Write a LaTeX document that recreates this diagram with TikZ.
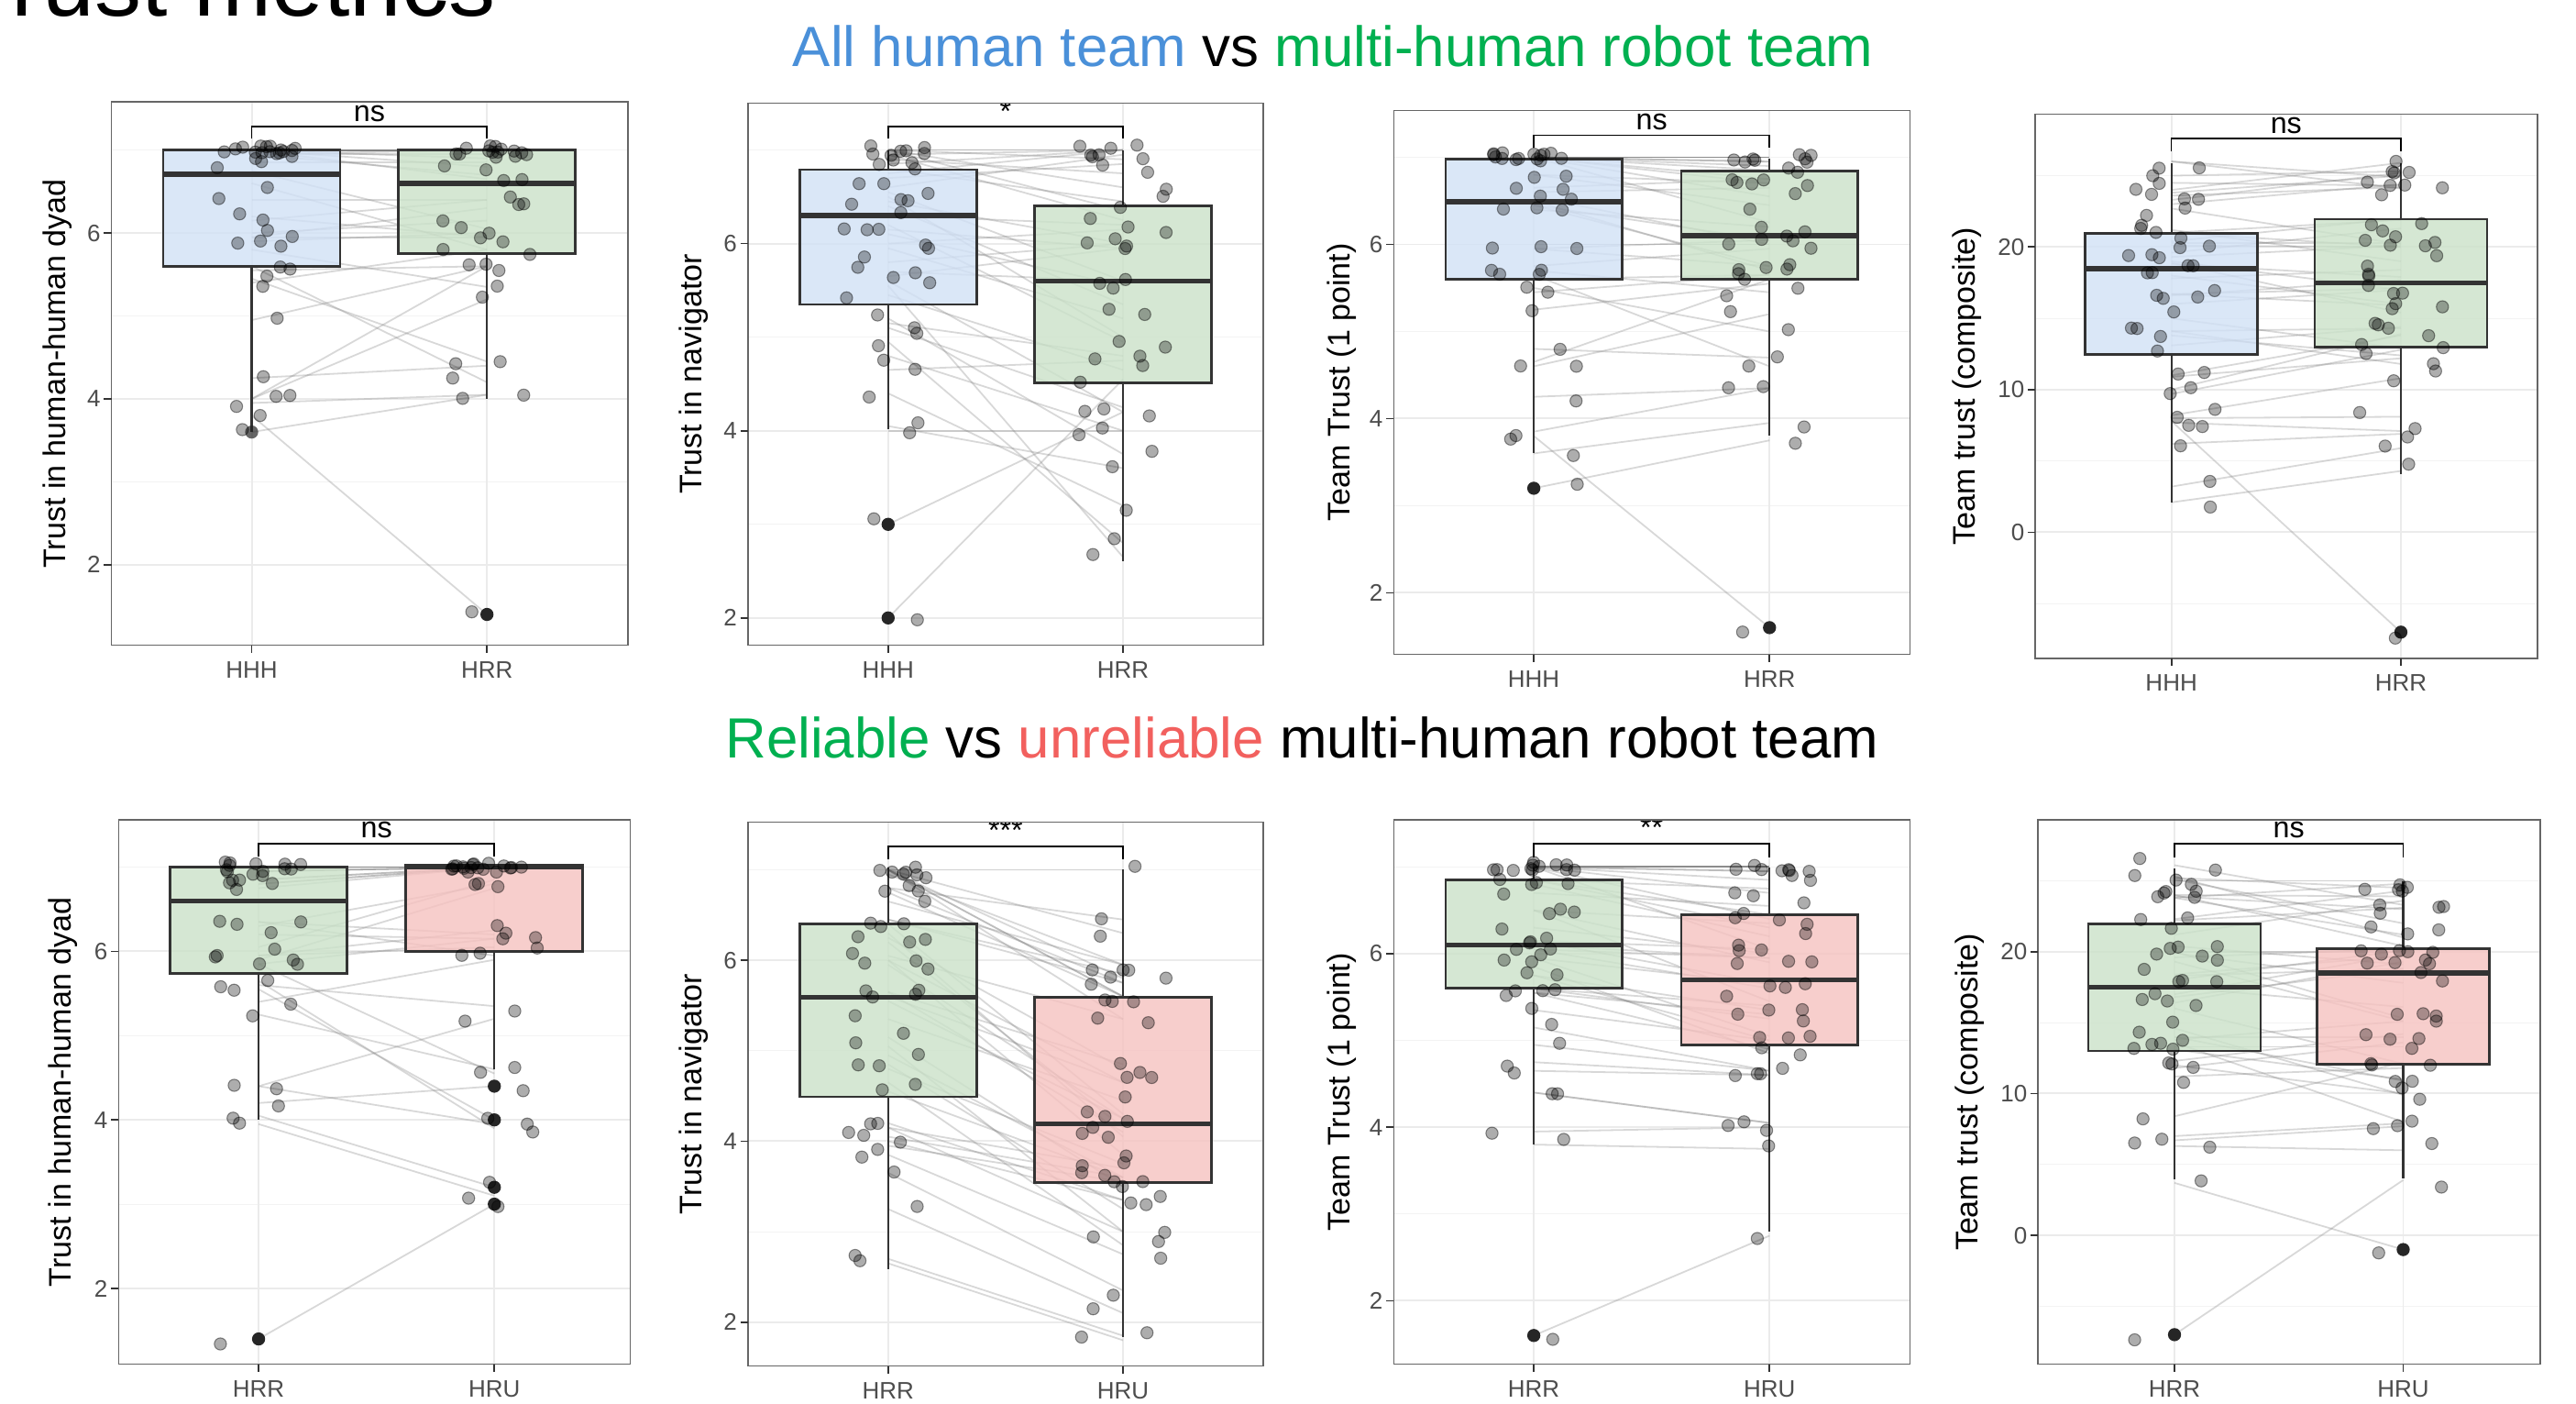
\documentclass[tikz,border=0pt]{standalone}
\usepackage{fontspec}
\setmainfont{Liberation Sans}
\definecolor{gmaj}{HTML}{EBEBEB}
\definecolor{gmin}{HTML}{F3F3F3}
\definecolor{bxblue}{HTML}{D1E1F6}
\definecolor{bxgreen}{HTML}{CBE2C9}
\definecolor{bxred}{HTML}{F6C2C0}
\definecolor{edge}{HTML}{333333}
\definecolor{ticktxt}{HTML}{4D4D4D}
\definecolor{tblue}{HTML}{4A90D9}
\definecolor{tgreen}{HTML}{00B050}
\definecolor{tred}{HTML}{F2605E}
\tikzset{
 gridmajor/.style={draw=gmaj, line width=1.1pt},
 gridminor/.style={draw=gmin, line width=0.6pt},
 pairline/.style={draw=black!50, draw opacity=0.3, line width=1pt},
 dot/.style={circle, inner sep=0pt, minimum size=7.4pt, fill=black, fill opacity=0.32, draw=black, draw opacity=0.42, line width=0.6pt},
 outl/.style={circle, inner sep=0pt, minimum size=8pt, fill=black!85, draw=none},
 boxst/.style={draw=edge, line width=1.5pt, fill opacity=0.8},
 medst/.style={draw=edge, line width=3pt},
 whisk/.style={draw=edge, line width=1.2pt},
 brk/.style={draw=black, line width=0.9pt},
 frm/.style={draw=black!60, line width=0.9pt},
 tkmark/.style={draw=edge, line width=1pt},
 ticklab/.style={text=ticktxt, font=\fontsize{14.5}{16}\selectfont, inner sep=0pt},
 axtitle/.style={font=\fontsize{19}{21}\selectfont, inner sep=0pt, rotate=90},
 siglab/.style={font=\fontsize{18}{20}\selectfont, inner sep=0pt, anchor=base},
 subtitle/.style={font=\fontsize{34.5}{40}\selectfont, inner sep=0pt, anchor=base},
}
% box: x, wlo, q1, med, q3, whi, fill
\newcommand\bxp[7]{%
  \draw[whisk] (#1,#5) -- (#1,#6);
  \draw[whisk] (#1,#3) -- (#1,#2);
  \filldraw[boxst, fill=#7] ({#1-\HW},#3) rectangle ({#1+\HW},#5);
  \draw[medst] ({#1-\HW},#4) -- ({#1+\HW},#4);
}
\def\Bs{9}
\def\Perm{{4,8,1,6,0,3,7,2,5}}
\newcommand\drawpanel{%
\foreach \a [count=\c] in \Alist {\xdef\Np{\c}}%
\edef\Barr{{\Blist}}%
\begin{scope}
\clip (\FL,\FT) rectangle (\FR,\FB);
\begin{scope}[shift={(0,\Yz)}, y={(0pt,\Sc pt)}]
\foreach \v in \Minors {\draw[gridminor] (\FL,\v) -- (\FR,\v);}
\foreach \v in \Majors {\draw[gridmajor] (\FL,\v) -- (\FR,\v);}
\end{scope}
\draw[gridmajor] (\XA,\FT) -- (\XA,\FB);
\draw[gridmajor] (\XB,\FT) -- (\XB,\FB);
\begin{scope}[shift={(0,\Yz)}, y={(0pt,\Sc pt)}]
\foreach \a [count=\i from 0] in \Alist {
 \pgfmathtruncatemacro\blk{int(\i/\Bs)}
 \pgfmathtruncatemacro\rr{mod(\i,\Bs)}
 \pgfmathtruncatemacro\pp{\Perm[\rr]}
 \pgfmathtruncatemacro\jj{ifthenelse(\Bs*\blk+\Bs<\Np,\Bs*\blk+\pp,\i)}
 \pgfmathsetmacro\bb{\Barr[\jj]}
 \draw[pairline] (\XA,\a) -- (\XB,\bb);
}
\BoxA
\BoxB
\Outl
\foreach \a [count=\i] in \Alist {
 \pgfmathsetmacro\jx{\XA+27*rand}
 \pgfmathsetmacro\jy{\a+\JH*rand}
 \node[dot] (\Pfx a\i) at (\jx,\jy) {};
}
\foreach \a [count=\i] in \Blist {
 \pgfmathsetmacro\jx{\XB+27*rand}
 \pgfmathsetmacro\jy{\a+\JH*rand}
 \node[dot] (\Pfx b\i) at (\jx,\jy) {};
}
\end{scope}
\draw[brk] (\XA,\BE) -- (\XA,\BY) -- (\XB,\BY) -- (\XB,\BE);
\node[siglab] (\Pfx s) at ({(\XA+\XB)/2},{\BY-3.3}) {\Sig};
\end{scope}
\draw[frm] (\FL,\FT) rectangle (\FR,\FB);
\begin{scope}[shift={(0,\Yz)}, y={(0pt,\Sc pt)}]
\foreach \v [count=\k] in \Majors {
 \draw[tkmark] ({\FL-4.5},\v) -- (\FL,\v);
 \node[ticklab, anchor=east] (\Pfx t\k) at ({\FL-6.5},\v) {\v};
}
\end{scope}
\draw[tkmark] (\XA,\FB) -- (\XA,{\FB+4.5});
\draw[tkmark] (\XB,\FB) -- (\XB,{\FB+4.5});
\node[ticklab, anchor=base] (\Pfx xa) at (\XA,{\FB+20}) {\LabA};
\node[ticklab, anchor=base] (\Pfx xb) at (\XB,{\FB+20}) {\LabB};
\node[axtitle] (\Pfx yt) at ({\FL-\Toff},{(\FT+\FB)/2}) {\Ytitle};
}
\begin{document}
\begin{tikzpicture}[x=1pt,y=-1pt]
\useasboundingbox (0,0) rectangle (1568,854);
\fill[white] (0,0) rectangle (1568,854);
\pgfmathsetseed{11}
\node[font=\fontsize{57}{60}\selectfont, anchor=base west, inner sep=0pt] (title) at (7,10) {rust metrics};
\node[subtitle] (sub1) at (811.5,40.5) {\textcolor{tblue}{All human team} vs \textcolor{tgreen}{multi-human robot team}};
\node[subtitle] (sub2) at (792.5,461) {\textcolor{tgreen}{Reliable} vs \textcolor{tred}{unreliable} multi-human robot team};
% ---------- Panel 1
\begin{scope}
\def\Pfx{Pa}
\def\FL{67.8}\def\FR{382.4}\def\FT{62.1}\def\FB{392.6}
\def\XA{153.2}\def\XB{296.4}\def\HW{53.8}
\def\Yz{444.5}\def\Sc{50.45}\def\JH{0.06}
\def\Majors{2,4,6}\def\Minors{3,5,7}
\def\Alist{7,7,7,7,7,7,7,7,7,7,7,7,7,7,6.95,6.95,6.95,6.85,6.75,6.6,6.4,6.2,6.15,6.0,5.95,5.95,5.9,5.8,5.6,5.55,5.45,5.4,4.95,4.25,4.0,4.0,3.95,3.8,3.6}
\def\Blist{7,7,7,7,7,7,7,7,7,7,7,7,6.95,6.9,6.85,6.8,6.7,6.65,6.4,6.4,6.3,6.15,6.05,6.0,5.95,5.95,5.8,5.8,5.6,5.6,5.6,5.35,5.2,4.45,4.4,4.2,4.05,1.4,4.05}
\def\BoxA{\bxp{\XA}{3.6}{5.6}{6.71}{7.0}{7.0}{bxblue}}
\def\BoxB{\bxp{\XB}{4.0}{5.75}{6.6}{7.0}{7.0}{bxgreen}}
\def\Outl{\node[outl] (Pao1) at (\XB,1.4) {}; \node[outl, fill opacity=0.7] (Pao2) at (\XA,3.6) {};}
\def\BY{77.1}\def\BE{84.4}\def\Sig{ns}
\def\LabA{HHH}\def\LabB{HRR}
\def\Ytitle{Trust in human-human dyad}\def\Toff{32.8}
\drawpanel
\end{scope}
% ---------- Panel 2
\begin{scope}
\def\Pfx{Pb}
\def\Bs{13}\def\Perm{{6,11,2,9,0,12,4,8,1,10,3,7,5}}
\def\FL{455.2}\def\FR{769.0}\def\FT{62.8}\def\FB{392.6}
\def\XA{540.6}\def\XB{683.6}\def\HW{53.9}
\def\Yz{489.9}\def\Sc{56.95}\def\JH{0.06}
\def\Majors{2,4,6}\def\Minors{3,5,7}
\def\Alist{7,7,7,7,7,6.95,6.95,6.9,6.85,6.8,6.75,6.7,6.6,6.55,6.5,6.45,6.4,6.3,6.2,6.15,6.1,6.0,5.95,5.8,5.7,5.65,5.6,5.55,5.45,5.2,5.15,5.1,4.95,4.8,4.65,4.4,4.05,4.0,3.0,2.0}
\def\Blist{7,7,7,7,7,6.95,6.9,6.85,6.75,6.6,6.45,6.35,6.25,6.2,6.15,6.0,6.0,5.95,5.95,5.6,5.6,5.55,5.35,5.2,5.0,4.95,4.8,4.75,4.65,3.6,2.8,4.2,4.2,4.0,4.0,3.75,3.2,2.65,4.25,4.55}
\def\BoxA{\bxp{\XA}{4.02}{5.35}{6.3}{6.79}{7.0}{bxblue}}
\def\BoxB{\bxp{\XB}{2.61}{4.51}{5.6}{6.4}{7.0}{bxgreen}}
\def\Outl{\node[outl] (Pbo1) at (\XA,3.0) {}; \node[outl] (Pbo2) at (\XA,2.0) {};}
\def\BY{77.1}\def\BE{84.4}\def\Sig{*}
\def\LabA{HHH}\def\LabB{HRR}
\def\Ytitle{Trust in navigator}\def\Toff{33}
\drawpanel
\end{scope}
% ---------- Panel 3
\begin{scope}
\def\Pfx{Pc}
\def\FL{848.4}\def\FR{1162.5}\def\FT{67.2}\def\FB{398.2}
\def\XA{933.6}\def\XB{1077.1}\def\HW{53.7}
\def\Yz{466.7}\def\Sc{53.0}\def\JH{0.06}
\def\Majors{2,4,6}\def\Minors{3,5,7}
\def\Alist{7,7,7,7,7,7,7,7,7,7,7,7,7,7,6.8,6.8,6.65,6.6,6.55,6.5,6.45,6.45,6.4,6.0,5.95,5.95,5.75,5.7,5.65,5.6,5.5,5.45,5.25,4.8,4.65,4.6,4.25,3.85,3.8,3.6,3.2}
\def\Blist{7,7,7,7,7,7,6.95,6.95,6.9,6.85,6.75,6.75,6.7,6.7,6.65,6.55,6.45,6.25,6.2,6.05,6.05,6.0,6.0,5.95,5.75,5.75,5.7,5.65,5.65,5.6,5.55,5.45,5.2,5.0,4.7,4.6,4.35,4.35,1.6,3.95,3.75}
\def\BoxA{\bxp{\XA}{3.6}{5.6}{6.49}{6.98}{7.0}{bxblue}}
\def\BoxB{\bxp{\XB}{3.81}{5.6}{6.1}{6.84}{6.98}{bxgreen}}
\def\Outl{\node[outl] (Pco1) at (\XA,3.2) {}; \node[outl] (Pco2) at (\XB,1.6) {};}
\def\BY{82.2}\def\BE{90.0}\def\Sig{ns}
\def\LabA{HHH}\def\LabB{HRR}
\def\Ytitle{Team Trust (1 point)}\def\Toff{31.5}
\drawpanel
\end{scope}
% ---------- Panel 4
\begin{scope}
\def\Pfx{Pd}
\def\FL{1238.9}\def\FR{1544.7}\def\FT{69.5}\def\FB{400.5}
\def\XA{1321.7}\def\XB{1461.4}\def\HW{52.5}
\def\Yz{323.9}\def\Sc{8.68}\def\JH{0.5}
\def\Majors{0,10,20}\def\Minors{-5,5,15,25}
\def\Alist{26,26,25,24.5,24,23.8,23.6,23.3,23,22.7,21.2,21,21,20.4,20.3,20.1,19.6,19.3,19,18.9,18.8,18,17.8,16.7,16.7,16.6,16,15,14.1,14.1,13.8,13.1,11,10.9,10,9.7,8.2,8,7.8,7.7,6.2,3.2,2.1}
\def\Blist{25.9,25.3,25.2,25,24.9,24.4,24.3,24.2,24.1,22,21.9,21.3,20.3,20.2,20.1,20,20,19,18.4,17.9,17.7,17.1,17,17,16,15.9,15.4,14.4,14.3,13.9,13.8,12.9,12.8,12.4,12.2,11.8,10.8,8.1,-7,7.1,6.9,5.9,4.3}
\def\BoxA{\bxp{\XA}{2.07}{12.49}{18.48}{20.97}{25.9}{bxblue}}
\def\BoxB{\bxp{\XB}{4.1}{12.98}{17.5}{21.96}{25.9}{bxgreen}}
\def\Outl{\node[outl] (Pdo1) at (\XB,-7) {};}
\def\BY{84.3}\def\BE{92.2}\def\Sig{ns}
\def\LabA{HHH}\def\LabB{HRR}
\def\Ytitle{Team trust (composite)}\def\Toff{41.5}
\drawpanel
\end{scope}
% ---------- Panel 5
\begin{scope}
\def\Pfx{Pe}
\def\FL{72.2}\def\FR{383.6}\def\FT{498.9}\def\FB{830.1}
\def\XA{157.4}\def\XB{300.9}\def\HW{53.9}
\def\Yz{886.5}\def\Sc{51.27}\def\JH{0.06}
\def\Majors{2,4,6}\def\Minors{3,5,7}
\def\Alist{7,7,7,7,7,7,7,7,7,7,6.95,6.95,6.95,6.85,6.85,6.8,6.8,6.75,6.35,6.35,6.3,6.2,6.05,5.95,5.95,5.9,5.85,5.85,5.65,5.6,5.55,5.4,5.25,4.4,4.4,4.2,4.05,3.95,1.4}
\def\Blist{7,7,7,7,7,7,7,7,7,7,7,7,7,7,7,7,7,7,6.85,6.8,6.75,6.25,6.2,6.15,6.15,6.05,5.95,5.9,5.35,5.2,4.6,4.55,4.4,4.0,3.95,3.9,3.2,3.1,3.0}
\def\BoxA{\bxp{\XA}{4.0}{5.74}{6.6}{7.0}{7.0}{bxgreen}}
\def\BoxB{\bxp{\XB}{4.6}{6.0}{7.0}{7.02}{7.02}{bxred}}
\def\Outl{\node[outl] (Peo1) at (\XA,1.4) {}; \node[outl] (Peo2) at (\XB,4.4) {}; \node[outl] (Peo3) at (\XB,4.0) {}; \node[outl] (Peo4) at (\XB,3.2) {}; \node[outl] (Peo5) at (\XB,3.0) {};}
\def\BY{513.3}\def\BE{521.0}\def\Sig{ns}
\def\LabA{HRR}\def\LabB{HRU}
\def\Ytitle{Trust in human-human dyad}\def\Toff{34}
\drawpanel
\end{scope}
% ---------- Panel 6
\begin{scope}
\def\Pfx{Pf}
\def\Bs{13}\def\Perm{{6,11,2,9,0,12,4,8,1,10,3,7,5}}
\def\FL{455.2}\def\FR{769.0}\def\FT{500.3}\def\FB{831.2}
\def\XA{540.6}\def\XB{683.6}\def\HW{53.9}
\def\Yz{914.6}\def\Sc{55.05}\def\JH{0.06}
\def\Majors{2,4,6}\def\Minors{3,5,7}
\def\Alist{7,7,7,7,7,7,6.95,6.8,6.8,6.75,6.65,6.45,6.45,6.4,6.3,6.25,6.2,6.05,6,6,5.95,5.65,5.65,5.6,5.55,5.35,5.15,5.05,4.95,4.85,4.8,4.65,4.55,4.2,4.15,4.15,4.05,4.0,3.95,3.85,3.65,3.25,2.7,2.65}
\def\Blist{7.0,6.45,6.3,5.95,5.95,5.85,5.8,5.75,5.75,5.6,5.6,5.6,5.35,5.35,4.85,4.8,4.65,4.65,4.45,4.3,4.25,4.25,4.15,4.1,4.05,3.85,3.75,3.7,3.6,3.6,3.6,3.55,3.5,3.35,3.35,3.25,3.0,3.0,2.85,2.75,2.35,2.1,1.85,1.8}
\def\BoxA{\bxp{\XA}{2.59}{4.49}{5.59}{6.4}{7.03}{bxgreen}}
\def\BoxB{\bxp{\XB}{1.84}{3.54}{4.19}{5.59}{7.0}{bxred}}
\def\Outl{}
\def\BY{514.9}\def\BE{523.1}\def\Sig{***}
\def\LabA{HRR}\def\LabB{HRU}
\def\Ytitle{Trust in navigator}\def\Toff{33}
\drawpanel
\end{scope}
% ---------- Panel 7
\begin{scope}
\def\Pfx{Pg}
\def\FL{848.4}\def\FR{1162.5}\def\FT{498.9}\def\FB{830.1}
\def\XA{933.6}\def\XB{1077.1}\def\HW{53.7}
\def\Yz{897.1}\def\Sc{52.8}\def\JH{0.06}
\def\Majors{2,4,6}\def\Minors{3,5,7}
\def\Alist{7,7,7,7,7,7,7,7,7,7,7,7,6.85,6.85,6.85,6.8,6.7,6.5,6.5,6.5,6.3,6.15,6.15,6.1,6.05,6.05,5.95,5.95,5.85,5.75,5.75,5.6,5.6,5.55,5.55,5.35,5.15,4.95,4.75,4.65,4.4,4.4,3.95,3.8,1.6}
\def\Blist{7,7,7,7,7,7,6.95,6.95,6.85,6.75,6.7,6.55,6.45,6.4,6.35,6.3,6.2,6.05,6.05,6,5.95,5.95,5.9,5.65,5.65,5.6,5.45,5.4,5.35,5.3,5.25,5.05,5.0,5.0,4.9,4.85,4.65,4.65,4.6,4.6,4.05,4.05,4.0,3.75,2.75}
\def\BoxA{\bxp{\XA}{3.8}{5.6}{6.1}{6.85}{6.99}{bxgreen}}
\def\BoxB{\bxp{\XB}{2.8}{4.95}{5.7}{6.45}{6.99}{bxred}}
\def\Outl{\node[outl] (Pgo1) at (\XA,1.6) {};}
\def\BY{513.3}\def\BE{522}\def\Sig{**}
\def\LabA{HRR}\def\LabB{HRU}
\def\Ytitle{Team Trust (1 point)}\def\Toff{31.5}
\drawpanel
\end{scope}
% ---------- Panel 8
\begin{scope}
\def\Pfx{Ph}
\def\Bs{13}\def\Perm{{6,11,2,9,0,12,4,8,1,10,3,7,5}}
\def\FL{1240.6}\def\FR{1546.1}\def\FT{498.9}\def\FB{830.1}
\def\XA{1323.6}\def\XB{1462.8}\def\HW{52.4}
\def\Yz{751.7}\def\Sc{8.63}\def\JH{0.5}
\def\Majors{0,10,20}\def\Minors{-5,5,15,25}
\def\Alist{26.1,25.3,25.2,25.1,25,24,24,23.9,23.8,23.8,22.3,22.2,21.2,20.4,20,20,19.9,19.6,19.3,18.4,18.3,18,17.5,17,16.8,16.4,16,14.6,14,14,13.8,13.6,13.3,13.1,12.3,12,11.8,11.2,8.4,7,6.7,6.3,3.7,-7}
\def\Blist{25,24.8,24.5,24.3,23.9,23.6,23.3,23.1,23,22,21.2,21,20.4,20.2,20.1,20,19.8,19.7,19.3,19.1,18.8,18.8,17.8,16.1,15.3,15.1,15.1,14.2,14,13.6,13.3,12.2,12.1,11.8,11,10.9,10,9.9,8,7.9,7.7,6,-1,3.9}
\def\BoxA{\bxp{\XA}{3.97}{13.0}{17.5}{21.96}{25.9}{bxgreen}}
\def\BoxB{\bxp{\XB}{4.0}{12.07}{18.5}{20.2}{24.97}{bxred}}
\def\Outl{\node[outl] (Pho1) at (\XA,-7) {}; \node[outl] (Pho2) at (\XB,-1) {};}
\def\BY{513.3}\def\BE{522}\def\Sig{ns}
\def\LabA{HRR}\def\LabB{HRU}
\def\Ytitle{Team trust (composite)}\def\Toff{41.5}
\drawpanel
\end{scope}
\end{tikzpicture}
\end{document}
